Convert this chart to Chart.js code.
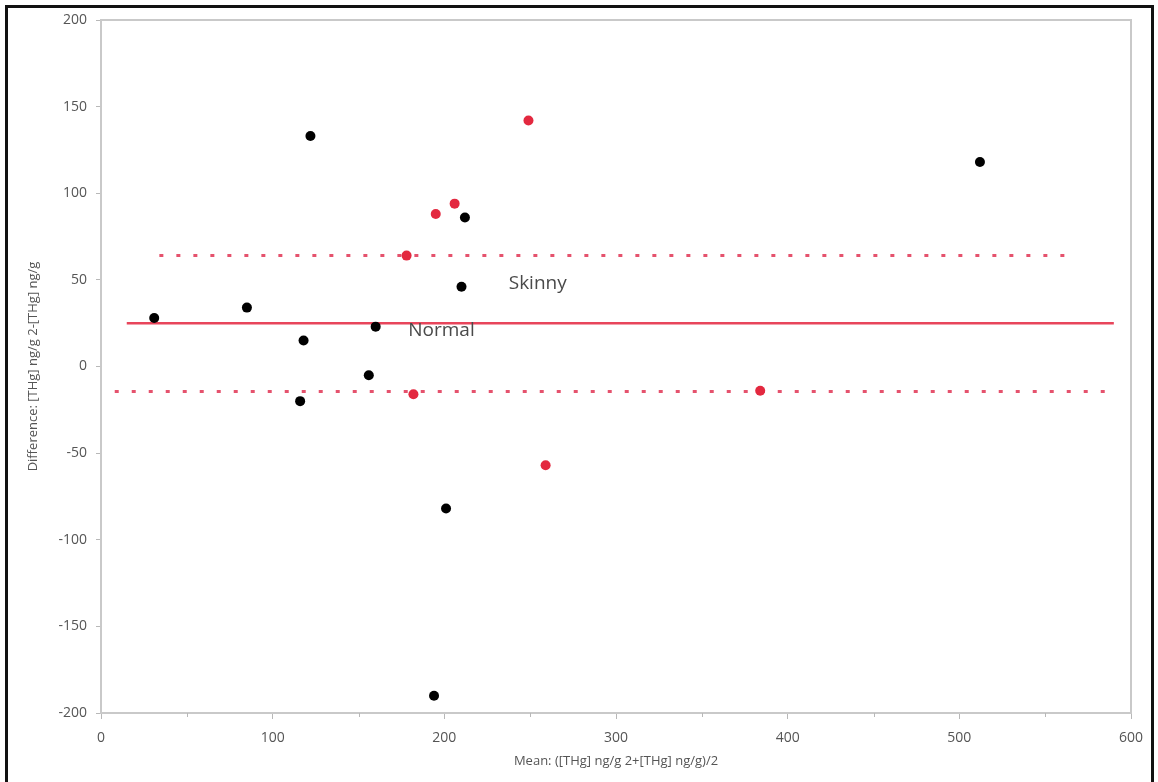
<!DOCTYPE html>
<html><head><meta charset="utf-8">
<script src="https://cdn.jsdelivr.net/npm/chart.js@4"></script>
<style>
html,body{margin:0;padding:0;background:#fff;}
#wrap{position:relative;width:1158px;height:782px;overflow:hidden;background:#fff;}
#frame{position:absolute;left:5px;top:5px;width:1149px;height:800px;border:3px solid #111;box-sizing:border-box;pointer-events:none;}
canvas{position:absolute;left:0;top:0;}
</style></head><body>
<div id="wrap"><canvas id="c" width="1158" height="782"></canvas><div id="frame"></div></div>
<script>
// Normal group (black points): mean vs difference
const normalMean = [31, 85, 122, 118, 116, 160, 156, 212, 210, 201, 194, 512];
const normalDiff = [28, 34, 133, 15, -20, 23, -5, 86, 46, -82, -190, 118];
// Skinny group (red points)
const skinnyMean = [249, 195, 206, 178, 182, 259, 384];
const skinnyDiff = [142, 88, 94, 64, -16, -57, -14];
// Bias line and limits of agreement
const meanBias = 25;
const meanLineX = [15, 590];
const upperLimit = 64;
const upperLineX = [34, 567];
const lowerLimit = -14.5;
const lowerLineX = [8, 592];
// Axis ticks
const xTicks = [0, 100, 200, 300, 400, 500, 600];
const xMinorTicks = [50, 150, 250, 350, 450, 550];
const yTicks = [-200, -150, -100, -50, 0, 50, 100, 150, 200];
// Text labels
const groupLabels = ['Skinny', 'Normal'];
const groupLabelX = [237.5, 179];
const groupLabelY = [48, 21];

const FONT = 'Open Sans, Noto Sans, sans-serif';
const pts = (xs, ys) => xs.map((x, i) => ({x: x, y: ys[i]}));
const hline = (xs, y) => xs.map(x => ({x: x, y: y}));

const decor = {
  id: 'decor',
  beforeDatasetsDraw(chart) {
    const {ctx, chartArea: a, scales: {x}} = chart;
    ctx.save();
    ctx.strokeStyle = '#c9c9c9';
    ctx.lineWidth = 2;
    ctx.strokeRect(a.left, a.top, a.right - a.left, a.bottom - a.top);
    ctx.strokeStyle = '#b8b8b8';
    ctx.lineWidth = 1;
    xMinorTicks.forEach(v => {
      const px = Math.round(x.getPixelForValue(v)) + 0.5;
      ctx.beginPath(); ctx.moveTo(px, a.bottom); ctx.lineTo(px, a.bottom + 4); ctx.stroke();
    });
    ctx.restore();
  },
  afterDatasetsDraw(chart) {
    const {ctx, scales: {x, y}} = chart;
    ctx.save();
    ctx.fillStyle = '#4a4a4a';
    ctx.font = '19px ' + FONT;
    ctx.textAlign = 'left';
    ctx.textBaseline = 'middle';
    groupLabels.forEach((t, i) => {
      ctx.fillText(t, x.getPixelForValue(groupLabelX[i]), y.getPixelForValue(groupLabelY[i]));
    });
    ctx.restore();
  }
};

new Chart(document.getElementById('c').getContext('2d'), {
  type: 'scatter',
  data: {
    datasets: [
      {label: 'Normal', data: pts(normalMean, normalDiff), backgroundColor: '#000', borderWidth: 0, pointRadius: 5},
      {label: 'Skinny', data: pts(skinnyMean, skinnyDiff), backgroundColor: '#e3283f', borderWidth: 0, pointRadius: 5},
      {type: 'line', label: 'Mean', data: hline(meanLineX, meanBias), borderColor: '#e8455b', borderWidth: 2.5, pointRadius: 0, fill: false},
      {type: 'line', label: 'Upper', data: hline(upperLineX, upperLimit), borderColor: '#e5526d', borderWidth: 3, borderDash: [4, 13], pointRadius: 0, fill: false},
      {type: 'line', label: 'Lower', data: hline(lowerLineX, lowerLimit), borderColor: '#e5526d', borderWidth: 3, borderDash: [4, 13], pointRadius: 0, fill: false}
    ]
  },
  options: {
    responsive: false,
    animation: false,
    layout: {padding: {left: 0, top: 20, right: 27, bottom: 0}},
    plugins: {legend: {display: false}, tooltip: {enabled: false}},
    scales: {
      x: {
        type: 'linear', min: 0, max: 600,
        afterBuildTicks: s => { s.ticks = xTicks.map(v => ({value: v})); },
        afterFit: s => { s.height = 69; },
        grid: {drawOnChartArea: false, drawTicks: true, tickLength: 6, color: '#b8b8b8'},
        border: {display: false},
        ticks: {font: {family: FONT, size: 14}, color: '#555', padding: 11, maxRotation: 0},
        title: {display: true, text: 'Mean: ([THg] ng/g 2+[THg] ng/g)/2', font: {family: FONT, size: 13}, color: '#555', padding: {top: 0, bottom: 13}}
      },
      y: {
        type: 'linear', min: -200, max: 200,
        afterBuildTicks: s => { s.ticks = yTicks.map(v => ({value: v})); },
        afterFit: s => { s.width = 101; },
        grid: {drawOnChartArea: false, drawTicks: true, tickLength: 5, color: '#b8b8b8'},
        border: {display: false},
        ticks: {font: {family: FONT, size: 14}, color: '#555', padding: 9},
        title: {display: true, text: 'Difference: [THg] ng/g 2-[THg] ng/g', font: {family: FONT, size: 13}, color: '#555', padding: {top: 25, bottom: 0}}
      }
    }
  },
  plugins: [decor]
});
</script>
</body></html>
